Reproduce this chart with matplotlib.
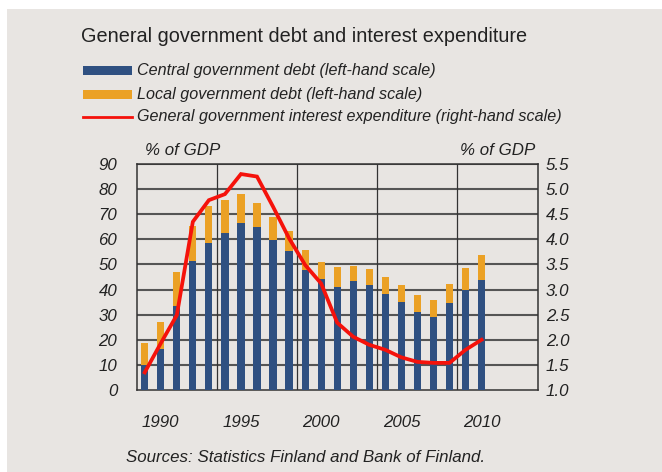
import matplotlib
matplotlib.use("Agg")
import matplotlib.pyplot as plt
from matplotlib.patches import Rectangle
from matplotlib.lines import Line2D

plt.rcParams['font.family'] = ['Liberation Sans', 'DejaVu Sans']

years = list(range(1989, 2011))
central_debt = [10.0, 16.3, 33.6, 51.2, 58.7, 62.7, 66.6, 64.8, 59.6, 55.5, 47.9,
                44.2, 41.1, 43.4, 41.8, 38.2, 35.2, 31.1, 29.2, 34.5, 39.8, 43.9]
total_debt = [18.6, 27.2, 46.9, 65.3, 73.4, 75.8, 77.9, 74.5, 68.9, 63.5, 55.6,
              51.0, 48.9, 49.4, 48.1, 44.9, 41.9, 37.7, 35.8, 42.2, 48.6, 53.8]
local_debt = [t - c for t, c in zip(total_debt, central_debt)]
interest_exp = [1.35, 1.93, 2.49, 4.35, 4.78, 4.90, 5.30, 5.25, 4.65, 4.02, 3.49,
                3.12, 2.34, 2.06, 1.90, 1.80, 1.65, 1.56, 1.54, 1.54, 1.80, 2.00]

left_ticks = list(range(0, 100, 10))
right_ticks = [1.0, 1.5, 2.0, 2.5, 3.0, 3.5, 4.0, 4.5, 5.0, 5.5]
year_ticks = [1990, 1995, 2000, 2005, 2010]

title = "General government debt and interest expenditure"
legend_labels = ["Central government debt (left-hand scale)",
                 "Local government debt (left-hand scale)",
                 "General government interest expenditure (right-hand scale)"]
source = "Sources: Statistics Finland and Bank of Finland."

BG = '#E8E5E2'
NAVY = '#2F5081'
ORANGE = '#EBA125'
RED = '#F5120B'
TXT = '#222222'
FS = 12.2

W, H = 662, 472
fig = plt.figure(figsize=(W / 100, H / 100), dpi=100, facecolor='white')
fig.patches.append(Rectangle((7 / W, 0), 1, 1 - 9 / H, transform=fig.transFigure,
                             facecolor=BG, edgecolor='none', zorder=-5))

def fx(px):
    return px / W

def fy(py):
    return 1 - py / H

ax = fig.add_axes([fx(136.7), fy(390), fx(537.7) - fx(136.7), fy(164) - fy(390)])
ax.set_facecolor(BG)
ax.bar(years, central_debt, width=0.45, color=NAVY, zorder=3)
ax.bar(years, local_debt, bottom=central_debt, width=0.45, color=ORANGE, zorder=3)
ax.set_xlim(1988.5, 2013.5)
ax.set_ylim(0, 90)
ax.set_yticks(left_ticks)
ax.set_xticks(year_ticks)
for v in left_ticks[1:]:
    ax.axhline(v, color='#555555', lw=1.5, zorder=1)
for xv in [1993.5, 1998.5, 2003.5, 2008.5]:
    ax.axvline(xv, color='#333333', lw=0.9, zorder=1)
for s in ax.spines.values():
    s.set_color('#333333')
    s.set_linewidth(1.1)
ax.tick_params(axis='y', length=0, pad=14, labelsize=FS, labelcolor=TXT)
ax.tick_params(axis='x', length=0, pad=18, labelsize=FS, labelcolor=TXT)
for lab in ax.get_xticklabels() + ax.get_yticklabels():
    lab.set_fontstyle('italic')

ax2 = ax.twinx()
ax2.plot(years, interest_exp, color=RED, lw=2.7, zorder=5, solid_joinstyle='miter')
ax2.set_ylim(1.0, 5.5)
ax2.set_yticks(right_ticks)
ax2.set_yticklabels([f"{v:.1f}" for v in right_ticks])
ax2.tick_params(axis='y', length=0, pad=6, labelsize=FS, labelcolor=TXT)
for lab in ax2.get_yticklabels():
    lab.set_fontstyle('italic')
for s in ax2.spines.values():
    s.set_visible(False)

fig.text(fx(145), fy(151), "% of GDP", fontsize=FS, style='italic', color=TXT,
         ha='left', va='center')
fig.text(fx(535), fy(151), "% of GDP", fontsize=FS, style='italic', color=TXT,
         ha='right', va='center')

fig.text(fx(81), fy(37), title, fontsize=14.3, color=TXT, ha='left', va='center')

legend_y = [70, 94, 117]
for i, (lbl, yy) in enumerate(zip(legend_labels, legend_y)):
    if i < 2:
        fig.patches.append(Rectangle((fx(83), fy(yy + 4.5)), fx(132) - fx(83), 9 / H,
                                     transform=fig.transFigure,
                                     facecolor=[NAVY, ORANGE][i], edgecolor='none'))
    else:
        fig.lines.append(Line2D([fx(83), fx(132)], [fy(yy), fy(yy)],
                                transform=fig.transFigure, color=RED, lw=2))
    fig.text(fx(137), fy(yy), lbl, fontsize=11.6, style='italic', color=TXT,
             ha='left', va='center')

fig.text(fx(126), fy(457), source, fontsize=FS, style='italic', color=TXT,
         ha='left', va='center')

fig.savefig('out.png', dpi=100, facecolor='white')
